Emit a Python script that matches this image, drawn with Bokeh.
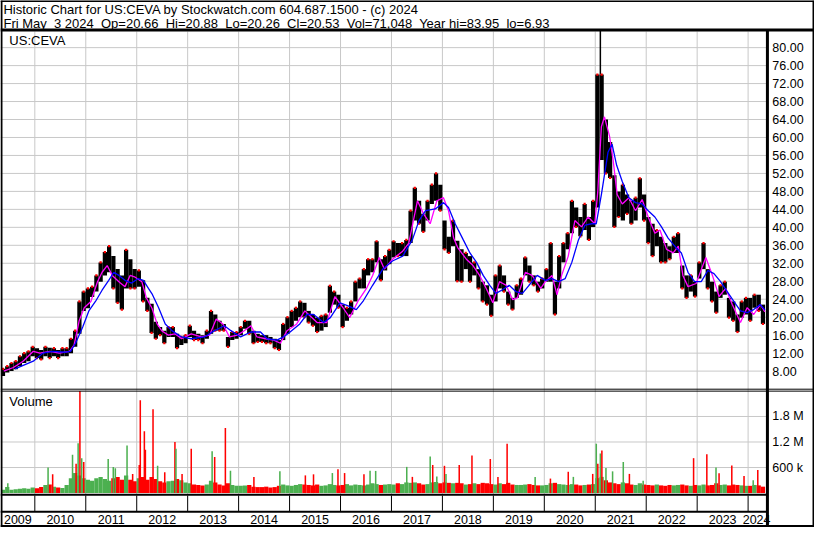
from bokeh.plotting import figure
from bokeh.models import Range1d
from bokeh.embed import file_html
from bokeh.resources import INLINE
from bokeh.core.properties import value

# ---------------- data ----------------
first_year, first_month = 2009, 5          # monthly bars, May 2009 .. Apr 2024

price_high = [
    8.5, 9.1, 9.8, 10.2, 11.3, 12.0, 12.4, 13.4,                                  # 2009
    13.1, 12.7, 13.4, 13.2, 13.1, 12.7, 13.1, 13.1, 15.2, 17.0, 23.5, 25.7,       # 2010
    26.4, 26.8, 29.3, 32.2, 34.5, 35.8, 33.6, 30.7, 29.3, 35.0, 32.9, 30.7,       # 2011
    30.4, 28.2, 24.3, 23.0, 19.0, 17.8, 17.0, 17.8, 17.8, 16.3, 15.6, 16.0,       # 2012
    18.1, 17.0, 16.3, 16.0, 17.0, 21.4, 20.6, 19.2, 18.5, 15.6, 16.7, 16.7,       # 2013
    17.8, 19.2, 19.2, 17.0, 16.3, 16.0, 16.0, 15.6, 15.2, 14.9, 18.5, 20.0,       # 2014
    21.4, 22.1, 23.5, 23.2, 21.4, 20.6, 19.9, 20.3, 20.6, 27.0, 25.7, 25.0,       # 2015
    22.8, 22.1, 23.5, 27.9, 28.6, 30.7, 32.9, 32.9, 36.9, 32.9, 33.6, 35.0,       # 2016
    36.9, 36.5, 36.5, 37.2, 43.7, 48.8, 45.9, 43.0, 45.9, 49.5, 52.0, 49.5,       # 2017
    41.5, 37.9, 41.5, 37.0, 35.1, 34.3, 33.6, 32.2, 30.7, 27.9, 27.1, 25.0,       # 2018
    29.3, 31.5, 29.3, 25.7, 24.3, 27.1, 28.6, 33.3, 31.5, 29.3, 27.9, 28.6,       # 2019
    30.7, 36.5, 27.9, 33.6, 36.5, 38.7, 45.9, 44.4, 42.3, 45.2, 42.3, 45.9,       # 2020
    74.0, 74.0, 64.0, 59.0, 51.6, 48.0, 49.5, 47.3, 45.9, 46.6, 50.9, 47.3,       # 2021
    42.3, 40.8, 39.4, 37.9, 36.5, 35.8, 37.9, 38.7, 31.5, 29.3, 29.3, 27.9,       # 2022
    32.2, 36.5, 30.7, 27.9, 25.7, 27.1, 27.9, 24.3, 23.5, 20.6, 23.5, 24.3,       # 2023
    24.3, 25.0, 25.0, 22.8,                                                        # 2024
]
price_low = [
    6.93, 7.7, 8.0, 8.4, 9.1, 9.8, 10.2, 11.3,                                    # 2009
    10.9, 10.6, 11.3, 10.9, 11.3, 10.9, 11.3, 11.3, 12.0, 13.4, 16.3, 21.4,       # 2010
    22.0, 24.5, 25.7, 27.9, 29.3, 30.0, 26.4, 23.2, 21.7, 26.4, 26.4, 26.4,       # 2011
    26.8, 23.5, 21.4, 16.5, 15.2, 16.0, 14.2, 15.6, 15.6, 13.1, 13.8, 14.2,       # 2012
    15.6, 14.9, 14.9, 14.2, 15.2, 16.3, 17.0, 17.0, 17.0, 13.4, 14.9, 15.2,       # 2013
    16.0, 17.4, 16.3, 14.2, 14.5, 14.5, 14.2, 14.2, 13.1, 12.7, 14.9, 16.3,       # 2014
    17.8, 19.2, 20.0, 20.0, 18.8, 18.1, 16.7, 17.0, 17.8, 21.0, 22.8, 22.1,       # 2015
    17.8, 19.2, 20.6, 23.5, 26.4, 26.4, 29.3, 30.0, 32.2, 28.2, 30.4, 31.8,       # 2016
    33.3, 33.6, 33.6, 33.6, 36.5, 41.5, 40.8, 39.0, 41.5, 45.2, 45.9, 43.7,       # 2017
    35.1, 34.3, 35.8, 28.0, 27.9, 30.7, 27.9, 29.3, 26.4, 23.5, 22.8, 20.3,       # 2018
    23.5, 26.4, 25.7, 22.8, 21.7, 24.3, 25.0, 29.3, 27.9, 27.1, 25.7, 26.4,       # 2019
    27.9, 27.9, 20.6, 26.4, 32.2, 35.1, 38.7, 40.1, 38.0, 39.4, 37.2, 40.1,       # 2020
    44.4, 55.0, 52.0, 51.0, 40.1, 42.3, 41.5, 43.0, 40.8, 41.5, 44.4, 41.5,       # 2021
    36.5, 33.6, 35.8, 32.2, 32.2, 32.9, 34.3, 34.3, 26.4, 24.3, 25.7, 24.6,       # 2022
    28.6, 30.7, 26.4, 23.5, 21.0, 24.3, 25.0, 19.9, 19.2, 16.7, 19.9, 20.6,       # 2023
    19.2, 22.1, 21.4, 18.5,                                                        # 2024
]
# typical monthly volume (thousands of shares)
volume_base_k = [
    80, 140, 80, 90, 100, 110, 100, 130,                                          # 2009
    110, 140, 190, 200, 150, 130, 120, 190, 350, 470, 410, 350,                   # 2010
    310, 290, 350, 380, 330, 290, 350, 380, 310, 410, 310, 280,                   # 2011
    350, 380, 310, 380, 330, 280, 250, 280, 290, 330, 300, 250,                   # 2012
    230, 200, 190, 180, 200, 290, 250, 200, 180, 230, 190, 170,                   # 2013
    170, 180, 190, 150, 140, 140, 150, 130, 140, 170, 200, 180,                   # 2014
    170, 190, 210, 200, 190, 180, 200, 170, 180, 210, 190, 180,                   # 2015
    190, 210, 180, 200, 190, 180, 200, 230, 210, 190, 200, 210,                   # 2016
    200, 230, 210, 250, 240, 250, 230, 200, 210, 250, 260, 230,                   # 2017
    250, 240, 230, 240, 230, 200, 210, 230, 210, 240, 230, 210,                   # 2018
    200, 230, 210, 240, 200, 190, 190, 200, 210, 190, 180, 180,                   # 2019
    190, 230, 240, 210, 200, 190, 210, 200, 180, 190, 200, 210,                   # 2020
    350, 380, 300, 250, 230, 210, 250, 230, 200, 190, 230, 200,                   # 2021
    190, 180, 200, 180, 170, 190, 180, 190, 200, 180, 170, 190,                   # 2022
    180, 200, 180, 190, 230, 190, 200, 180, 200, 190, 180, 170,                   # 2023
    170, 190, 180, 150,                                                            # 2024
]
# high-volume days: date (decimal year), volume (thousands), up day?
spike_t = [2009.47, 2010.26, 2010.35, 2010.74, 2010.81, 2010.85, 2010.885, 2010.92, 2010.96,
           2011.44, 2011.54, 2011.58, 2011.81, 2011.92, 2012.05, 2012.07, 2012.15, 2012.17,
           2012.32, 2012.41, 2012.55, 2012.75, 2012.77, 2012.89, 2013.07, 2013.48, 2013.53,
           2013.74, 2013.84, 2014.30, 2014.81, 2015.31, 2015.47, 2015.84, 2015.95, 2016.08,
           2016.46, 2016.58, 2016.69, 2017.30, 2017.41, 2017.76, 2017.81, 2017.89, 2018.04,
           2018.07, 2018.33, 2018.58, 2018.94, 2019.09, 2019.27, 2019.82, 2020.12, 2020.47,
           2020.57, 2020.95, 2021.02, 2021.05, 2021.10, 2021.13, 2021.21, 2021.34, 2021.55,
           2021.67, 2021.94, 2022.93, 2023.19, 2023.37, 2023.43, 2023.68, 2023.92, 2024.10,
           2024.19]
spike_vol_k = [230, 600, 440, 900, 690, 1170, 2400, 820, 730,
               800, 615, 585, 1120, 450, 660, 2180, 1450, 1020,
               1970, 640, 490, 1200, 1040, 450, 1040, 985, 845,
               1530, 525, 380, 510, 415, 440, 470, 560, 470,
               440, 525, 520, 615, 380, 860, 660, 390, 640,
               450, 660, 880, 800, 380, 1160, 380, 340, 500,
               380, 450, 1160, 690, 930, 1000, 590, 510, 730,
               450, 290, 820, 910, 600, 465, 650, 400, 300,
               540]
spike_up = [1, 1, 0, 1, 0, 1, 0, 1, 0,
            1, 1, 1, 1, 0, 0, 0, 0, 0,
            0, 1, 0, 0, 1, 0, 0, 1, 0,
            0, 1, 0, 1, 0, 0, 1, 0, 0,
            0, 1, 1, 1, 0, 1, 0, 1, 0,
            1, 0, 0, 0, 0, 0, 1, 0, 0,
            1, 0, 1, 0, 1, 0, 1, 1, 1,
            0, 1, 0, 0, 1, 0, 0, 0, 1,
            0]
year_hi_t = [2021.10]
year_hi = [83.95]

# short (magenta) and long (blue) moving averages
ma_fast_t = [2009.39, 2009.58, 2009.77, 2009.97, 2010.10, 2010.30, 2010.48, 2010.68, 2010.77, 2010.87,
             2010.97, 2011.10, 2011.23, 2011.32, 2011.42, 2011.52, 2011.65, 2011.77, 2011.87, 2011.97,
             2012.10, 2012.19, 2012.30, 2012.40, 2012.49, 2012.62, 2012.75, 2012.88, 2013.07, 2013.27,
             2013.43, 2013.56, 2013.69, 2013.82, 2013.98, 2014.11, 2014.24, 2014.36, 2014.53, 2014.69,
             2014.82, 2014.95, 2015.14, 2015.30, 2015.40, 2015.54, 2015.73, 2015.89, 2016.05, 2016.18,
             2016.34, 2016.51, 2016.63, 2016.76, 2016.86, 2017.02, 2017.22, 2017.34, 2017.51, 2017.63,
             2017.76, 2017.89, 2018.02, 2018.12, 2018.22, 2018.30, 2018.47, 2018.60, 2018.73, 2018.86,
             2018.99, 2019.12, 2019.25, 2019.38, 2019.47, 2019.63, 2019.76, 2019.93, 2020.02, 2020.15,
             2020.25, 2020.34, 2020.47, 2020.60, 2020.73, 2020.86, 2020.99, 2021.05, 2021.12, 2021.18,
             2021.28, 2021.35, 2021.43, 2021.53, 2021.66, 2021.79, 2021.92, 2022.04, 2022.17, 2022.27,
             2022.40, 2022.53, 2022.63, 2022.72, 2022.82, 2022.98, 2023.17, 2023.30, 2023.43, 2023.56,
             2023.69, 2023.85, 2023.98, 2024.11, 2024.24, 2024.33]
ma_fast = [8.0, 8.8, 10.2, 12.4, 12.0, 12.4, 12.0, 12.4, 13.8, 19.2,
           22.1, 23.5, 27.9, 30.0, 31.5, 29.3, 27.9, 26.8, 29.3, 28.9,
           27.9, 24.3, 22.0, 18.5, 17.0, 16.0, 16.3, 15.2, 16.3, 15.6,
           16.0, 19.6, 18.5, 15.6, 16.0, 17.0, 18.1, 15.6, 15.2, 14.9,
           14.2, 17.0, 18.5, 21.4, 20.3, 18.8, 18.8, 24.6, 22.1, 19.9,
           23.5, 26.4, 29.3, 33.3, 30.7, 32.9, 34.7, 36.5, 45.9, 43.0,
           40.8, 45.9, 46.6, 43.7, 37.6, 35.5, 32.9, 31.5, 29.3, 26.4,
           23.2, 27.9, 27.1, 23.9, 24.3, 30.0, 29.3, 26.4, 27.9, 29.3,
           25.0, 29.3, 33.6, 41.5, 40.1, 42.3, 40.8, 48.0, 62.4, 64.6,
           60.3, 55.0, 47.3, 45.2, 46.6, 43.7, 46.2, 42.3, 38.7, 39.4,
           35.1, 34.3, 35.8, 29.3, 26.8, 27.5, 33.3, 29.3, 24.6, 26.4,
           22.8, 18.8, 22.1, 20.6, 22.8, 21.2]
ma_slow_t = [2009.61, 2009.97, 2010.16, 2010.35, 2010.60, 2010.70, 2010.80, 2010.94, 2011.06, 2011.19,
             2011.32, 2011.45, 2011.55, 2011.65, 2011.77, 2011.90, 2012.03, 2012.13, 2012.23, 2012.30,
             2012.43, 2012.56, 2012.69, 2012.88, 2013.07, 2013.33, 2013.53, 2013.72, 2013.85, 2014.04,
             2014.24, 2014.43, 2014.56, 2014.75, 2014.88, 2015.01, 2015.20, 2015.34, 2015.47, 2015.67,
             2015.80, 2015.99, 2016.15, 2016.31, 2016.44, 2016.63, 2016.83, 2017.02, 2017.22, 2017.41,
             2017.54, 2017.67, 2017.86, 2018.02, 2018.12, 2018.25, 2018.41, 2018.54, 2018.67, 2018.80,
             2018.93, 2019.05, 2019.18, 2019.31, 2019.44, 2019.57, 2019.70, 2019.86, 2020.02, 2020.15,
             2020.28, 2020.41, 2020.54, 2020.67, 2020.80, 2020.93, 2021.02, 2021.12, 2021.25, 2021.33,
             2021.42, 2021.53, 2021.66, 2021.79, 2021.92, 2022.04, 2022.17, 2022.30, 2022.43, 2022.56,
             2022.69, 2022.82, 2022.95, 2023.08, 2023.21, 2023.33, 2023.46, 2023.59, 2023.72, 2023.85,
             2023.98, 2024.11, 2024.24, 2024.33]
ma_slow = [8.5, 10.2, 12.0, 12.4, 12.2, 12.4, 14.2, 17.8, 21.4, 23.5,
           26.0, 28.2, 30.0, 29.3, 28.2, 27.6, 28.6, 28.2, 26.4, 25.2,
           22.1, 18.5, 17.0, 15.6, 15.2, 15.6, 17.0, 18.1, 17.0, 15.6,
           16.7, 16.7, 15.2, 14.9, 15.6, 16.7, 18.5, 20.6, 20.6, 18.8,
           19.9, 23.2, 22.5, 21.7, 23.5, 27.1, 30.7, 32.5, 33.6, 37.2,
           41.5, 43.7, 44.1, 45.5, 44.4, 40.8, 37.2, 34.3, 32.2, 29.3,
           27.1, 25.3, 26.1, 27.1, 25.7, 25.3, 27.1, 29.3, 28.2, 28.6,
           27.9, 28.6, 32.2, 37.2, 40.5, 40.8, 40.8, 47.3, 56.7, 58.5,
           53.8, 50.2, 46.6, 45.5, 45.2, 43.7, 42.3, 40.1, 37.6, 35.8,
           34.3, 30.0, 27.9, 27.9, 30.4, 29.7, 27.9, 25.7, 23.5, 21.4,
           21.0, 21.7, 22.8, 21.6]

years = list(range(2009, 2025))
price_ticks = [8.0, 12.0, 16.0, 20.0, 24.0, 28.0, 32.0, 36.0, 40.0, 44.0,
               48.0, 52.0, 56.0, 60.0, 64.0, 68.0, 72.0, 76.0, 80.0]
vol_ticks = [600000, 1200000, 1800000]
vol_tick_labels = ["600 k", "1.2 M", "1.8 M"]
title_line = "Historic Chart for US:CEVA by Stockwatch.com 604.687.1500 - (c) 2024"
quote_line = ("Fri May\u00a0 3 2024\u00a0 Op=20.66\u00a0 Hi=20.88\u00a0 Lo=20.26\u00a0 Cl=20.53"
              "\u00a0 Vol=71,048\u00a0 Year hi=83.95\u00a0 lo=6.93")
symbol = "US:CEVA"
volume_title = "Volume"

# ---------------- layout (reference pixels) ----------------
W_REF, H_REF = 830, 543
X_2010, PX_PER_YEAR = 35.0, 51.95
Y_20, PX_PER_DOLLAR = 326.3, 4.629
Y_VOL0, PX_PER_600K = 507.5, 26.3
AXIS_X = 782
FONT = value("Liberation Sans")

GREEN = "#4cb050"
RED = "#ff0000"
GRID = "#c8c8c8"

n = len(price_high)
month_t = [first_year + (first_month - 1 + i + 0.5) / 12.0 for i in range(n)]
data_start = month_t[0] - 1 / 24.0
data_end = month_t[-1] + 1 / 24.0
mid = [(h + l) / 2 for h, l in zip(price_high, price_low)]
month_up = [True] + [mid[i] >= mid[i - 1] for i in range(1, n)]

p = figure(width=814, height=527,
           x_range=Range1d(2010 - X_2010 / PX_PER_YEAR, 2010 + (W_REF - X_2010) / PX_PER_YEAR),
           y_range=Range1d(20 - (H_REF - Y_20) / PX_PER_DOLLAR, 20 + Y_20 / PX_PER_DOLLAR),
           output_backend="svg", toolbar_location=None, min_border=0,
           x_axis_location=None, y_axis_location=None, title=None)
p.extra_x_ranges = {"px": Range1d(0, W_REF)}
p.extra_y_ranges = {"px": Range1d(H_REF, 0),
                    "vol": Range1d(-(H_REF - Y_VOL0) / PX_PER_600K * 600000,
                                   Y_VOL0 / PX_PER_600K * 600000)}
p.grid.visible = False
p.outline_line_color = None
p.background_fill_color = "white"
p.border_fill_color = "white"

# grid
p.segment(x0=[0] * len(price_ticks), x1=[AXIS_X] * len(price_ticks), y0=price_ticks, y1=price_ticks,
          x_range_name="px", line_color=GRID, line_width=1)
p.segment(x0=[0] * 3, x1=[AXIS_X] * 3, y0=vol_ticks, y1=vol_ticks,
          x_range_name="px", y_range_name="vol", line_color=GRID, line_width=1)
yb = years[1:]
p.segment(x0=yb, x1=yb, y0=[32] * len(yb), y1=[509] * len(yb),
          y_range_name="px", line_color=GRID, line_width=1)

# volume
p.vbar(x=month_t, width=1 / 12.0, bottom=0, top=[v * 1000 for v in volume_base_k],
       y_range_name="vol", fill_color=[GREEN if u else RED for u in month_up], line_color=None)
p.vbar(x=spike_t, width=0.03, bottom=0, top=[v * 1000 for v in spike_vol_k],
       y_range_name="vol", fill_color=[GREEN if u else RED for u in spike_up], line_color=None)

# price bars
p.vbar(x=month_t, width=1 / 12.0, bottom=price_low, top=price_high, fill_color="black", line_color=None)
hi_month = min(range(n), key=lambda i: abs(month_t[i] - year_hi_t[0]))
p.segment(x0=year_hi_t, x1=year_hi_t, y0=[price_high[hi_month]], y1=year_hi,
          line_color="black", line_width=1.5)
down_t = [t for t, u in zip(month_t, month_up) if not u]
down_lo = [l for l, u in zip(price_low, month_up) if not u]
up_t = [t for t, u in zip(month_t, month_up) if u]
up_hi = [h for h, u in zip(price_high, month_up) if u]
p.scatter(x=down_t, y=down_lo, marker="square", size=2.2, fill_color=RED, line_color=None)
p.scatter(x=up_t, y=up_hi, marker="square", size=2.2, fill_color=RED, line_color=None)

# moving averages
p.line(ma_fast_t, ma_fast, line_color="#ff00ff", line_width=1.3)
p.line(ma_slow_t, ma_slow, line_color="#0000ff", line_width=1.3)

# frame lines
black = dict(line_color="black", x_range_name="px", y_range_name="px")
p.segment(x0=[0], x1=[W_REF], y0=[30.5], y1=[30.5], line_width=3, **black)          # under header
p.segment(x0=[0, 0], x1=[W_REF, W_REF], y0=[400.5, 402.5], y1=[400.5, 402.5], line_width=1, **black)
p.segment(x0=[0], x1=[AXIS_X], y0=[509.3], y1=[509.3], line_width=2, **black)
p.segment(x0=[0], x1=[AXIS_X], y0=[526.8], y1=[526.8], line_width=2, **black)
p.segment(x0=[AXIS_X], x1=[AXIS_X], y0=[30], y1=[H_REF], line_width=3, **black)
p.segment(x0=[0, 0, 1, W_REF - 1], x1=[W_REF, W_REF, 1, W_REF - 1],
          y0=[0.5, H_REF - 1.5, 0, 0], y1=[0.5, H_REF - 1.5, H_REF, H_REF],
          line_width=2, **black)
p.segment(x0=yb, x1=yb, y0=[510] * len(yb), y1=[526] * len(yb), line_color="black", line_width=1,
          y_range_name="px")

# texts (vertical centre of capitals placed at the reference positions)
txt = dict(text_font=FONT, text_color="black", text_baseline="middle")
p.text(x=[3, 3], y=[9, 23.5], text=[title_line, quote_line], x_range_name="px", y_range_name="px",
       text_font_size=value("13px"), **txt)
p.text(x=[9, 9], y=[41.5, 413], text=[symbol, volume_title], x_range_name="px", y_range_name="px",
       text_font_size=value("13px"), **txt)
p.text(x=[787] * len(price_ticks), y=price_ticks, text=["%.2f" % v for v in price_ticks],
       x_range_name="px", text_font_size=value("12.5px"), **txt)
p.text(x=[787] * 3, y=vol_ticks, text=vol_tick_labels, x_range_name="px", y_range_name="vol",
       text_font_size=value("12.5px"), **txt)
label_x = [(max(y, data_start) + min(y + 1, data_end)) / 2 for y in years]
p.text(x=label_x, y=[534.5] * len(years), text=[str(y) for y in years], y_range_name="px",
       text_font_size=value("12.5px"), text_align="center", **txt)

open("out.html", "w").write(file_html(p, INLINE))
